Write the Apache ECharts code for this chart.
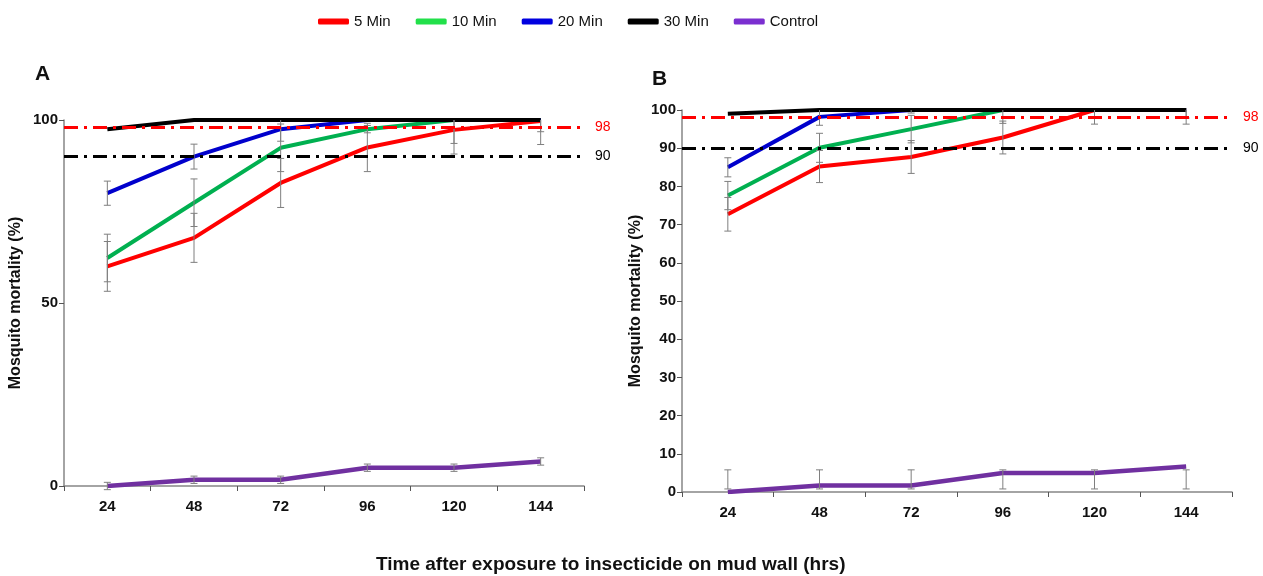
<!DOCTYPE html>
<html>
<head>
<meta charset="utf-8">
<script src="https://cdn.jsdelivr.net/npm/echarts@6/dist/echarts.min.js"></script>
<style>
  html, body { margin: 0; padding: 0; background: #fff; }
  #chart { width: 1263px; height: 576px; }
</style>
</head>
<body>
<div id="chart"></div>
<script>
var hours = ['24', '48', '72', '96', '120', '144'];
var seriesNames = ['5 Min', '10 Min', '20 Min', '30 Min', 'Control'];

// panel A (means and +/- error)
var min5A = [60, 67.8, 82.8, 92.5, 97.3, 99.7];
var min10A = [62.3, 77.4, 92.4, 97.5, 100, 100];
var min20A = [80, 90, 97.5, 100, 100, 100];
var min30A = [97.5, 100, 100, 100, 100, 100];
var ctrlA = [0, 1.7, 1.7, 5, 5, 6.7];
var err5A = [6.8, 6.7, 6.7, 6.6, 6.6, 6.4];
var err10A = [6.5, 6.5, 6.5, 1, 6.4, 3.2];
var err20A = [3.3, 3.4, 3.3, 0, 0, 0];
var errCtrlA = [1, 1, 1, 1, 1, 1];

// panel B
var min5B = [72.7, 85.2, 87.7, 92.8, 100, 100];
var min10B = [77.6, 90.1, 95, 100, 100, 100];
var min20B = [85, 98.2, 100, 100, 100, 100];
var min30B = [99, 100, 100, 100, 100, 100];
var ctrlB = [0, 1.7, 1.7, 5, 5, 6.7];
var err5B = [4.4, 4.2, 4.3, 4.3, 3.7, 3.7];
var err10B = [3.7, 3.8, 3.6, 3.5, 2.1, 2.1];
var err20B = [2.5, 2.2, 0.8, 0, 0, 0];
var ctrlLowB = [0.8, 0.8, 0.8, 0.8, 0.8, 0.8];
var ctrlHighB = [5.8, 5.8, 5.8, 5.8, 5.8, 5.8];

var thresholds = [98, 90];

var FONT = "'Liberation Sans', Arial, sans-serif";
var lineColors = ['#ff0000', '#00b050', '#0000cc', '#000000', '#7030a0'];
var legendColors = ['#ff0000', '#22e04a', '#0000e0', '#000000', '#7b2fd0'];

function errData(vals, errs) {
    var out = [];
    vals.forEach(function (v, i) {
        if (errs[i] > 0) out.push([i, v - errs[i], v + errs[i]]);
    });
    return out;
}

function renderErr(params, api) {
    var x = api.value(0), lo = api.value(1), hi = api.value(2);
    var top = Math.min(hi, 100);
    var p1 = api.coord([x, lo]), p2 = api.coord([x, top]);
    var st = { stroke: '#7f7f7f', lineWidth: 1 };
    var kids = [
        { type: 'line', shape: { x1: p1[0], y1: p1[1], x2: p2[0], y2: p2[1] }, style: st },
        { type: 'line', shape: { x1: p1[0] - 3.5, y1: p1[1], x2: p1[0] + 3.5, y2: p1[1] }, style: st }
    ];
    if (hi <= 100) {
        kids.push({ type: 'line', shape: { x1: p2[0] - 3.5, y1: p2[1], x2: p2[0] + 3.5, y2: p2[1] }, style: st });
    }
    return { type: 'group', children: kids };
}

function lineSeries(name, data, idx, color, width) {
    return {
        name: name, type: 'line', data: data,
        xAxisIndex: idx, yAxisIndex: idx,
        symbol: 'none', smooth: false,
        lineStyle: { color: color, width: width },
        itemStyle: { color: color },
        z: 3, animation: false
    };
}

function thresholdLines() {
    return {
        silent: true, symbol: ['none', 'none'], animation: false,
        label: { position: 'end', distance: 11, fontFamily: FONT, fontSize: 14, formatter: '{c}' },
        data: [
            { yAxis: thresholds[0], lineStyle: { color: '#ff0000', width: 3, type: [14, 6, 3, 6] }, label: { color: '#ff0000' } },
            { yAxis: thresholds[1], lineStyle: { color: '#000000', width: 3, type: [14, 6, 3, 6] }, label: { color: '#000000' } }
        ]
    };
}

function panelSeries(idx, vals, errs) {
    var list = [];
    // control first so the treatments sit on top, black last
    var order = [4, 0, 1, 2, 3];
    order.forEach(function (k) {
        var s = lineSeries(seriesNames[k], vals[k], idx, lineColors[k], k === 4 ? 4.5 : 4);
        if (k === 3) s.markLine = thresholdLines();
        list.push(s);
    });
    list.push({
        type: 'custom', xAxisIndex: idx, yAxisIndex: idx,
        renderItem: renderErr, data: errs, z: 4, silent: true, animation: false,
        encode: { x: 0, y: [1, 2] }
    });
    return list;
}

var errsA = [].concat(errData(min5A, err5A), errData(min10A, err10A), errData(min20A, err20A), errData(ctrlA, errCtrlA));
var errsB = [].concat(errData(min5B, err5B), errData(min10B, err10B), errData(min20B, err20B),
    ctrlLowB.map(function (l, i) { return [i, l, ctrlHighB[i]]; }));

function xAxis(idx) {
    return {
        type: 'category', gridIndex: idx, data: hours, boundaryGap: true,
        axisLine: { lineStyle: { color: '#868686', width: 1.5 } },
        axisTick: { show: true, length: 5, lineStyle: { color: '#555' } },
        axisLabel: { fontFamily: FONT, fontSize: 15, fontWeight: 'bold', color: '#111', margin: 13 }
    };
}
function yAxis(idx, step, gap) {
    return {
        type: 'value', gridIndex: idx, min: 0, max: 100, interval: step,
        name: 'Mosquito mortality (%)', nameLocation: 'middle', nameGap: gap,
        nameTextStyle: { fontFamily: FONT, fontSize: 16, fontWeight: 'bold', color: '#111' },
        axisLine: { show: true, lineStyle: { color: '#868686', width: 1.5 } },
        axisTick: { show: true, length: 5, lineStyle: { color: '#555' } },
        splitLine: { show: false },
        axisLabel: { fontFamily: FONT, fontSize: 15, fontWeight: 'bold', color: '#111', margin: 6 }
    };
}

var chart = echarts.init(document.getElementById('chart'), null, { renderer: 'canvas' });
var option = {
    backgroundColor: '#fff',
    animation: false,
    legend: {
        top: 9, left: 313, icon: 'roundRect', itemWidth: 31, itemHeight: 6, itemGap: 25,
        textStyle: { fontFamily: FONT, fontSize: 15, color: '#111' },
        data: seriesNames.map(function (n, i) { return { name: n, itemStyle: { color: legendColors[i] } }; })
    },
    grid: [
        { left: 64, right: 679, top: 120, bottom: 90 },
        { left: 682, right: 31, top: 110, bottom: 84 }
    ],
    xAxis: [xAxis(0), xAxis(1)],
    yAxis: [yAxis(0, 50, 40), yAxis(1, 10, 38)],
    graphic: [
        { type: 'text', left: 35, top: 64, style: { text: 'A', fontFamily: FONT, fontSize: 21, fontWeight: 'bold', fill: '#111' } },
        { type: 'text', left: 652, top: 69, style: { text: 'B', fontFamily: FONT, fontSize: 21, fontWeight: 'bold', fill: '#111' } },
        { type: 'text', left: 376, top: 555, style: { text: 'Time after exposure to insecticide on mud wall (hrs)', fontFamily: FONT, fontSize: 19, fontWeight: 'bold', fill: '#111' } }
    ],
    series: [].concat(
        panelSeries(0, [min5A, min10A, min20A, min30A, ctrlA], errsA),
        panelSeries(1, [min5B, min10B, min20B, min30B, ctrlB], errsB)
    )
};
chart.setOption(option);
</script>
</body>
</html>
